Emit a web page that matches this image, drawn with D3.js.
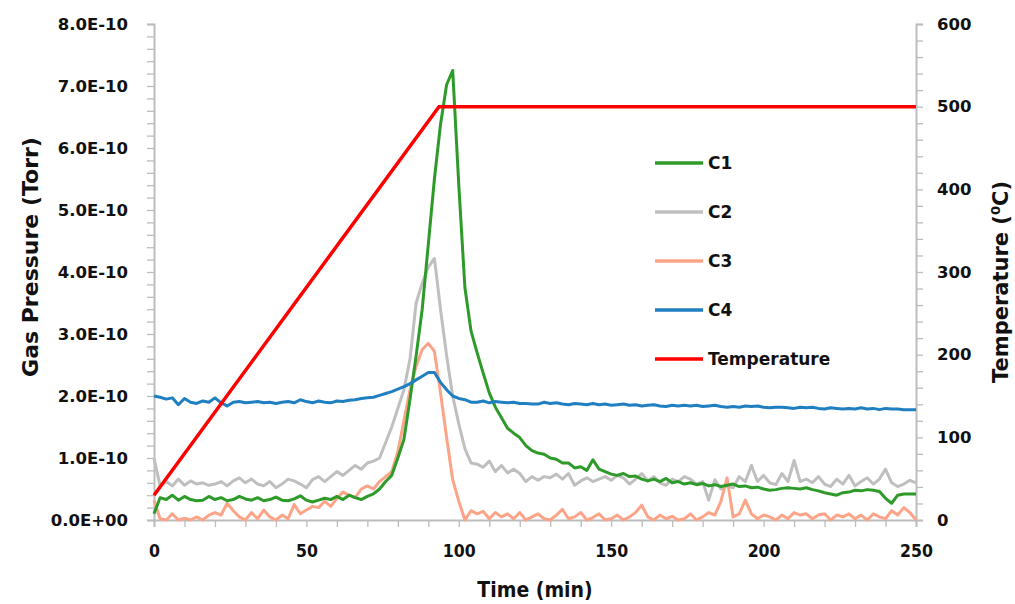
<!DOCTYPE html>
<html><head><meta charset="utf-8">
<script src="https://cdn.jsdelivr.net/npm/d3@7"></script>
<style>body{margin:0;background:#fff} svg{display:block}</style>
</head><body>
<svg id="c" width="1015" height="604"></svg>
<script>
// ---------- data (pressure in units of 1E-10 Torr) ----------
const times = [0,2,4,6,8,10,12,14,16,18,20,22,24,26,28,30,32,34,36,38,40,42,44,46,48,50,
  52,54,56,58,60,62,64,66,68,70,72,74,76,78,80,82,84,86,88,90,92,94,96,98,100,
  102,104,106,108,110,112,114,116,118,120,122,124,126,128,130,132,134,136,138,140,142,144,146,148,150,
  152,154,156,158,160,162,164,166,168,170,172,174,176,178,180,182,184,186,188,190,192,194,196,198,200,
  202,204,206,208,210,212,214,216,218,220,222,224,226,228,230,232,234,236,238,240,242,244,246,248,250];

const c1 = [0.10,0.36,0.33,0.40,0.32,0.38,0.33,0.31,0.32,0.38,0.33,0.36,0.31,0.33,0.38,0.34,0.32,0.36,0.31,0.33,0.37,0.32,0.31,0.34,0.39,0.32,
  0.29,0.32,0.35,0.33,0.38,0.33,0.40,0.36,0.33,0.38,0.42,0.50,0.62,0.72,1.00,1.30,1.95,2.65,3.40,4.45,5.50,6.38,7.02,7.25,5.40,
  3.75,3.05,2.70,2.37,2.05,1.82,1.65,1.48,1.40,1.33,1.20,1.12,1.08,1.06,1.00,0.98,0.92,0.92,0.84,0.86,0.80,0.97,0.82,0.78,0.74,
  0.72,0.75,0.70,0.71,0.66,0.63,0.66,0.62,0.67,0.60,0.62,0.58,0.60,0.57,0.59,0.55,0.57,0.54,0.56,0.58,0.54,0.55,0.52,0.53,0.50,
  0.48,0.49,0.51,0.52,0.51,0.50,0.52,0.49,0.47,0.44,0.42,0.40,0.44,0.45,0.48,0.47,0.49,0.48,0.46,0.35,0.27,0.40,0.42,0.42,0.42];

const c2 = [1.00,0.55,0.62,0.55,0.66,0.56,0.63,0.58,0.60,0.56,0.58,0.62,0.55,0.63,0.68,0.60,0.66,0.58,0.55,0.62,0.52,0.58,0.66,0.63,0.58,0.52,
  0.65,0.70,0.62,0.70,0.78,0.72,0.80,0.88,0.82,0.92,0.95,1.00,1.25,1.50,1.80,2.10,2.60,3.50,3.82,4.08,4.22,3.40,2.65,2.00,1.55,
  1.15,0.92,0.90,0.85,0.95,0.78,0.88,0.76,0.82,0.75,0.62,0.70,0.64,0.70,0.68,0.74,0.66,0.75,0.56,0.63,0.68,0.62,0.66,0.70,0.64,
  0.72,0.68,0.58,0.66,0.75,0.63,0.70,0.60,0.56,0.66,0.62,0.70,0.66,0.58,0.62,0.32,0.65,0.50,0.55,0.52,0.70,0.62,0.88,0.62,0.72,
  0.60,0.57,0.75,0.62,0.96,0.62,0.66,0.60,0.70,0.58,0.54,0.66,0.58,0.72,0.55,0.62,0.68,0.58,0.66,0.82,0.60,0.54,0.58,0.64,0.60];

const c3 = [0.32,0.02,0.00,0.10,0.00,0.03,0.00,0.05,0.00,0.08,0.12,0.08,0.27,0.15,0.05,0.00,0.12,0.02,0.16,0.05,0.00,0.08,0.02,0.25,0.10,0.16,
  0.22,0.20,0.30,0.22,0.35,0.45,0.40,0.36,0.50,0.55,0.50,0.62,0.70,0.78,1.10,1.60,2.10,2.48,2.75,2.85,2.72,2.05,1.33,0.65,0.30,
  0.00,0.15,0.10,0.14,0.02,0.12,0.05,0.10,0.02,0.12,0.00,0.05,0.10,0.02,0.00,0.08,0.17,0.02,0.05,0.12,0.00,0.04,0.10,0.00,0.02,
  0.08,0.00,0.05,0.12,0.24,0.05,0.00,0.08,0.02,0.06,0.00,0.02,0.10,0.00,0.05,0.12,0.08,0.30,0.68,0.05,0.10,0.32,0.10,0.02,0.08,
  0.05,0.00,0.08,0.02,0.12,0.08,0.10,0.02,0.08,0.10,0.00,0.08,0.05,0.10,0.02,0.08,0.00,0.10,0.05,0.02,0.15,0.08,0.20,0.12,0.00];

const c4 = [2.00,1.98,1.95,1.97,1.86,1.96,1.90,1.88,1.92,1.90,1.97,1.89,1.84,1.90,1.91,1.89,1.90,1.91,1.89,1.90,1.88,1.90,1.91,1.89,1.94,1.91,
  1.89,1.92,1.90,1.89,1.92,1.91,1.93,1.94,1.96,1.97,1.98,2.01,2.04,2.07,2.11,2.15,2.20,2.26,2.32,2.38,2.38,2.22,2.10,2.00,1.96,
  1.94,1.90,1.90,1.92,1.89,1.91,1.90,1.89,1.90,1.88,1.88,1.87,1.87,1.90,1.88,1.89,1.87,1.86,1.88,1.87,1.86,1.88,1.86,1.87,1.85,
  1.86,1.87,1.85,1.86,1.84,1.85,1.86,1.84,1.83,1.85,1.84,1.85,1.84,1.85,1.83,1.84,1.85,1.83,1.82,1.83,1.82,1.84,1.83,1.84,1.82,
  1.81,1.82,1.82,1.81,1.80,1.82,1.81,1.82,1.80,1.79,1.81,1.80,1.79,1.80,1.79,1.81,1.79,1.80,1.78,1.80,1.79,1.79,1.78,1.78,1.78];

const tempTimes = [0, 93.5, 250];
const tempValues = [30, 500, 500];

const seriesNames = ["C1", "C2", "C3", "C4", "Temperature"];
const pressureTicks = [0, 1, 2, 3, 4, 5, 6, 7, 8];
const pressureTickLabels = ["0.0E+00","1.0E-10","2.0E-10","3.0E-10","4.0E-10","5.0E-10","6.0E-10","7.0E-10","8.0E-10"];
const tempTicks = [0, 100, 200, 300, 400, 500, 600];
const timeTicks = [0, 50, 100, 150, 200, 250];

// ---------- styles ----------
const colors = {C1: "#2e9a2a", C2: "#bfbfbf", C3: "#fca487", C4: "#1f7fc1", Temperature: "#ff0000"};
const axisColor = "#bdbdbd";
const boldFont = "DejaVu Sans, Verdana, sans-serif";

const svg = d3.select("#c");
const x = d3.scaleLinear().domain([0, 250]).range([154, 916]);
const yL = d3.scaleLinear().domain([0, 8]).range([520, 24]);
const yR = d3.scaleLinear().domain([0, 600]).range([520, 24]);

// axes
const fmtP = d => { const i = pressureTicks.indexOf(Math.round(d * 10) / 10); return (Math.abs(d - Math.round(d)) < 1e-6 && i >= 0) ? pressureTickLabels[i] : ""; };
const gL = svg.append("g").attr("transform", "translate(154,0)")
  .call(d3.axisLeft(yL).tickValues(d3.range(0, 8.001, 0.2)).tickSize(7).tickPadding(19).tickFormat(fmtP));
const gR = svg.append("g").attr("transform", "translate(916,0)")
  .call(d3.axisRight(yR).tickValues(d3.range(0, 600.1, 20)).tickSize(7).tickPadding(14)
    .tickFormat(d => tempTicks.includes(Math.round(d)) ? String(Math.round(d)) : ""));
const gB = svg.append("g").attr("transform", "translate(0,520)")
  .call(d3.axisBottom(x).tickValues(d3.range(0, 250.1, 10)).tickSize(7).tickPadding(18)
    .tickFormat(d => timeTicks.includes(Math.round(d)) ? String(Math.round(d)) : ""));

[gL, gR, gB].forEach(g => {
  g.select(".domain").attr("stroke", axisColor).attr("stroke-width", 2);
  g.selectAll(".tick line").attr("stroke", axisColor).attr("stroke-width", 1.3);
  g.selectAll(".tick text").attr("fill", "#111").attr("font-family", boldFont)
    .attr("font-weight", "bold").attr("font-size", 16.5);
});
gB.selectAll(".tick text").attr("font-family", "DejaVu Sans Condensed, DejaVu Sans, sans-serif").attr("font-size", 17.5);

// lines
const lineP = d3.line().x(d => x(d[0])).y(d => yL(d[1]));
const lineT = d3.line().x(d => x(d[0])).y(d => yR(d[1]));
const data = {C1: c1, C2: c2, C3: c3, C4: c4};
["C2", "C3", "C1", "C4"].forEach(k => {
  svg.append("path").datum(times.map((t, i) => [t, data[k][i]]))
    .attr("fill", "none").attr("stroke", colors[k]).attr("stroke-width", 3)
    .attr("stroke-linejoin", "round").attr("d", lineP);
});
svg.append("path").datum(tempTimes.map((t, i) => [t, tempValues[i]]))
  .attr("fill", "none").attr("stroke", colors.Temperature).attr("stroke-width", 3.5)
  .attr("d", lineT);

// legend
const leg = svg.append("g");
seriesNames.forEach((n, i) => {
  const yy = 163 + i * 49;
  leg.append("line").attr("x1", 655).attr("x2", 703).attr("y1", yy).attr("y2", yy)
    .attr("stroke", colors[n]).attr("stroke-width", 3.5);
  leg.append("text").attr("x", 708).attr("y", yy).attr("dy", "0.36em")
    .attr("font-family", boldFont).attr("font-weight", "bold").attr("font-size", 17)
    .attr("fill", "#111").text(n);
});

// axis titles
svg.append("text").attr("transform", "translate(38,257) rotate(-90)").attr("text-anchor", "middle")
  .attr("font-family", "DejaVu Sans, sans-serif").attr("font-weight", "bold").attr("font-size", 22).attr("fill", "#111")
  .text("Gas Pressure (Torr)");
const tt = svg.append("text").attr("transform", "translate(1008,282) rotate(-90)").attr("text-anchor", "middle")
  .attr("font-family", "DejaVu Sans, sans-serif").attr("font-weight", "bold").attr("font-size", 21).attr("fill", "#111");
tt.append("tspan").text("Temperature (");
tt.append("tspan").attr("font-size", 13).attr("dy", -8).text("0");
tt.append("tspan").attr("dy", 8).text("C)");
svg.append("text").attr("x", 535).attr("y", 597).attr("text-anchor", "middle")
  .attr("font-family", "DejaVu Sans Condensed, DejaVu Sans, sans-serif").attr("font-weight", "bold")
  .attr("font-size", 21).attr("fill", "#111").text("Time (min)");
</script>
</body></html>
